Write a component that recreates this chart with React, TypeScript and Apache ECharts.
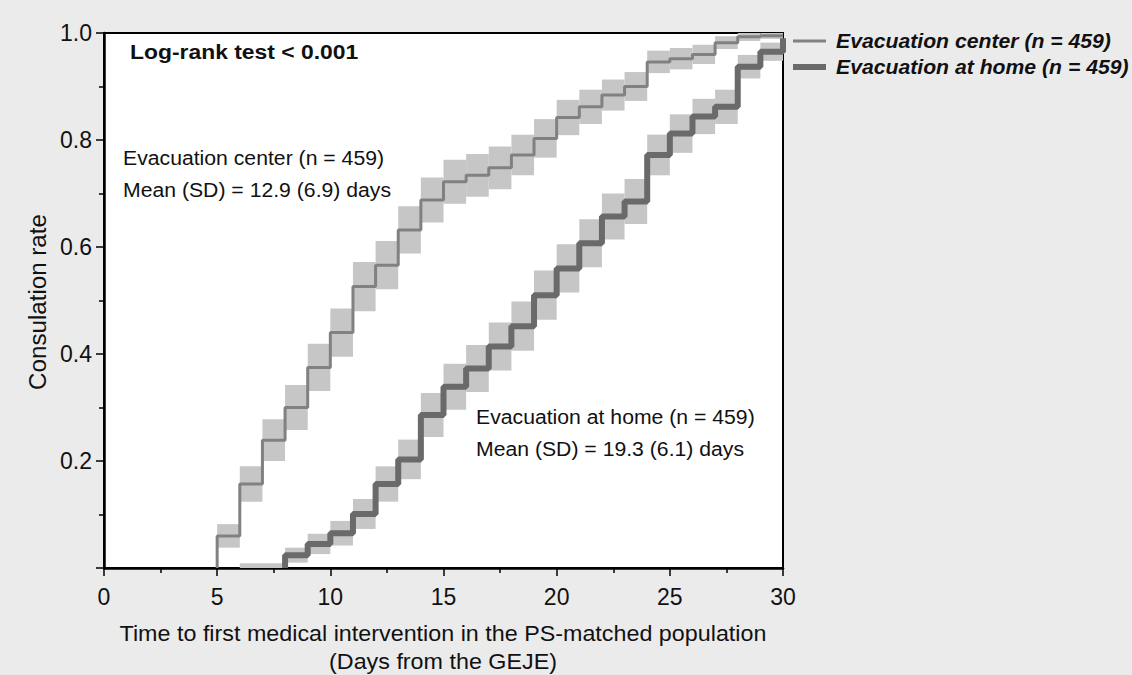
import React, { useEffect, useRef } from "react";
import * as echarts from "echarts";

// ---- data ----
const centerDays = [5, 6, 7, 8, 9, 10, 11, 12, 13, 14, 15, 16, 17, 18, 19, 20, 21, 22, 23, 24, 25, 26, 27, 28, 29, 30];
const centerRate = [0.06, 0.157, 0.239, 0.3, 0.375, 0.44, 0.526, 0.566, 0.632, 0.688, 0.722, 0.734, 0.748, 0.772, 0.803, 0.842, 0.862, 0.884, 0.9, 0.946, 0.952, 0.96, 0.982, 0.993, 0.995, 0.995];
const centerHalfCI = [0.022, 0.033, 0.039, 0.042, 0.044, 0.045, 0.046, 0.045, 0.044, 0.042, 0.041, 0.04, 0.04, 0.038, 0.036, 0.033, 0.032, 0.029, 0.027, 0.021, 0.02, 0.018, 0.012, 0.008, 0.006, 0.006];

const homeDays = [6, 8, 9, 10, 11, 12, 13, 14, 15, 16, 17, 18, 19, 20, 21, 22, 23, 24, 25, 26, 27, 28, 29, 30];
const homeRate = [0.003, 0.024, 0.045, 0.065, 0.101, 0.157, 0.203, 0.286, 0.339, 0.373, 0.414, 0.452, 0.51, 0.56, 0.607, 0.657, 0.685, 0.772, 0.812, 0.844, 0.862, 0.937, 0.965, 0.99];
const homeHalfCI = [0.006, 0.014, 0.019, 0.023, 0.028, 0.033, 0.037, 0.041, 0.043, 0.044, 0.045, 0.046, 0.046, 0.045, 0.045, 0.043, 0.042, 0.038, 0.036, 0.033, 0.032, 0.022, 0.017, 0.009];

const seriesNames = ["Evacuation center (n = 459)", "Evacuation at home (n = 459)"];
const xTitle = ["Time to first medical intervention in the PS-matched population", "(Days from the GEJE)"];
const yTitle = "Consulation rate";
const logRankText = "Log-rank test < 0.001";
const centerNote = ["Evacuation center (n = 459)", "Mean (SD) = 12.9 (6.9) days"];
const homeNote = ["Evacuation at home (n = 459)", "Mean (SD) = 19.3 (6.1) days"];

const FONT = "'Liberation Sans', Arial, sans-serif";
const CENTER_COLOR = "#818181";
const HOME_COLOR = "#6a6a6a";
const BAND_COLOR = "#c6c6c6";

function bandData(days: number[], rate: number[], ci: number[]) {
  return days.slice(0, -1).map((d, i) => [d, days[i + 1], rate[i] - ci[i], rate[i] + ci[i]]);
}

export default function App() {
  const ref = useRef<HTMLDivElement>(null);
  useEffect(() => {
    const chart = echarts.init(ref.current!, null, { renderer: "svg" });
    const renderBand = (_p: any, api: any) => {
      const p0 = api.coord([api.value(0), api.value(3)]);
      const p1 = api.coord([api.value(1), api.value(2)]);
      return {
        type: "rect",
        shape: { x: p0[0], y: p0[1], width: p1[0] - p0[0], height: p1[1] - p0[1] },
        style: { fill: BAND_COLOR },
      };
    };
    const txt = (text: string, x: number, y: number, opts: any = {}) => ({
      type: "text",
      x,
      y,
      scaleX: opts.scaleX ?? 1.01,
      rotation: opts.rotation ?? 0,
      z: 100,
      style: {
        text,
        fill: "#111",
        fontFamily: FONT,
        fontSize: opts.fontSize ?? 21,
        fontWeight: opts.fontWeight ?? "normal",
        fontStyle: opts.fontStyle ?? "normal",
        align: opts.align ?? "left",
        textAlign: opts.align ?? "left",
        verticalAlign: "middle",
        textVerticalAlign: "middle",
      },
    });
    chart.setOption({
      animation: false,
      grid: {
        left: 104,
        right: 349,
        top: 33,
        bottom: 107,
        show: true,
        backgroundColor: "#ffffff",
        borderColor: "#000",
        borderWidth: 2,
      },
      xAxis: {
        type: "value",
        min: 0,
        max: 30,
        interval: 5,
        axisLine: { lineStyle: { color: "#000", width: 2.5 } },
        axisTick: { inside: false, length: 8, lineStyle: { color: "#000", width: 1.5 } },
        minorTick: { show: true, splitNumber: 2, length: 5, lineStyle: { color: "#000", width: 1.5 } },
        splitLine: { show: false },
        axisLabel: { color: "#111", fontFamily: FONT, fontSize: 23, margin: 17 },
      },
      yAxis: {
        type: "value",
        min: 0,
        max: 1,
        interval: 0.2,
        axisLine: { show: true, lineStyle: { color: "#000", width: 2.5 } },
        axisTick: { show: true, inside: false, length: 8, lineStyle: { color: "#000", width: 1.5 } },
        minorTick: { show: true, splitNumber: 2, length: 5, lineStyle: { color: "#000", width: 1.5 } },
        splitLine: { show: false },
        axisLabel: {
          color: "#111",
          fontFamily: FONT,
          fontSize: 23,
          margin: 12,
          formatter: (v: number) => (v === 0 ? "" : v.toFixed(1)),
        },
      },
      series: [
        {
          type: "custom",
          name: seriesNames[0] + " band",
          data: bandData(centerDays, centerRate, centerHalfCI),
          renderItem: renderBand,
          encode: { x: [0, 1], y: [2, 3] },
          clip: true,
          z: 1,
          silent: true,
        },
        {
          type: "custom",
          name: seriesNames[1] + " band",
          data: bandData(homeDays, homeRate, homeHalfCI),
          renderItem: renderBand,
          encode: { x: [0, 1], y: [2, 3] },
          clip: true,
          z: 1,
          silent: true,
        },
        {
          type: "line",
          name: seriesNames[0],
          step: "end",
          showSymbol: false,
          color: CENTER_COLOR,
          lineStyle: { color: CENTER_COLOR, width: 3 },
          data: [[centerDays[0], 0], ...centerDays.map((d, i) => [d, centerRate[i]])],
          z: 3,
        },
        {
          type: "line",
          name: seriesNames[1],
          step: "end",
          showSymbol: false,
          color: HOME_COLOR,
          lineStyle: { color: HOME_COLOR, width: 6 },
          data: [[homeDays[1], 0], ...homeDays.slice(1).map((d, i) => [d, homeRate[i + 1]])],
          z: 3,
        },
      ],
      graphic: [
        { type: "line", shape: { x1: 793, y1: 41, x2: 826, y2: 41 }, style: { stroke: CENTER_COLOR, lineWidth: 3 } },
        { type: "line", shape: { x1: 793, y1: 67, x2: 826, y2: 67 }, style: { stroke: HOME_COLOR, lineWidth: 6 } },
        txt(seriesNames[0], 836, 41, { fontWeight: "bold", fontStyle: "italic", fontSize: 20, scaleX: 1.06 }),
        txt(seriesNames[1], 836, 67, { fontWeight: "bold", fontStyle: "italic", fontSize: 20, scaleX: 1.06 }),
        txt(logRankText, 130, 52, { fontWeight: "bold", fontSize: 21, scaleX: 1.09 }),
        txt(centerNote[0], 123, 158),
        txt(centerNote[1], 123, 190),
        txt(homeNote[0], 476, 417),
        txt(homeNote[1], 476, 449),
        txt(xTitle[0], 443, 633, { align: "center", fontSize: 22, scaleX: 1.06 }),
        txt(xTitle[1], 443, 661, { align: "center", fontSize: 22, scaleX: 1.06 }),
        txt(yTitle, 38, 302, { align: "center", fontSize: 23, rotation: Math.PI / 2, scaleX: 1.05 }),
      ],
    });
    return () => chart.dispose();
  }, []);
  return (
    <div
      ref={ref}
      style={{ position: "fixed", left: 0, top: 0, width: 1132, height: 675, background: "#ebebeb" }}
    />
  );
}
